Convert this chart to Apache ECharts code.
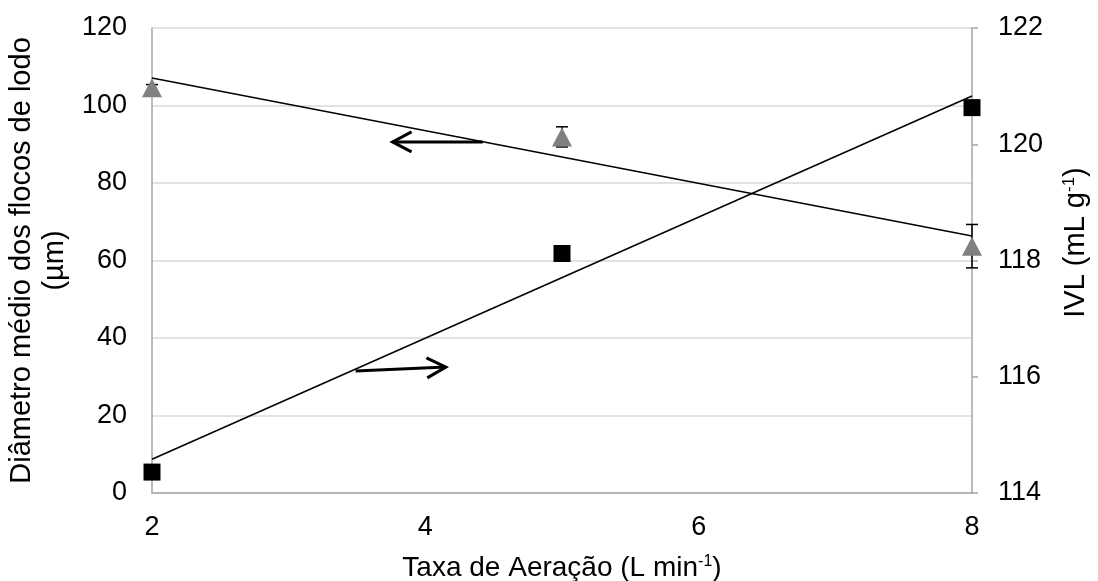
<!DOCTYPE html>
<html>
<head>
<meta charset="utf-8">
<script src="https://cdn.jsdelivr.net/npm/echarts@6/dist/echarts.min.js"></script>
<style>
html,body{margin:0;padding:0;background:#fff;}
#chart{width:1098px;height:581px;}
</style>
</head>
<body>
<div id="chart"></div>
<script>
// ---- data ----
var aerationRates = [2, 5, 8];                 // L min-1
var flocDiameter = [104.6, 91.9, 63.7];         // µm (left axis, grey triangles)
var flocDiameterErr = [0.8, 2.6, 5.6];          // error bar half-widths
var ivl = [114.36, 118.12, 120.63];             // mL g-1 (right axis, black squares)
var flocTrend = [[2, 107.1], [8, 66.3]];        // linear trend, left axis
var ivlTrend = [[2, 114.58], [8, 120.83]];      // linear trend, right axis
var arrowLeft = [[4.42, 90.6], [3.76, 90.6]];   // tail -> tip, left-axis coords
var arrowRight = [[3.49, 31.5], [4.15, 32.5]];  // tail -> tip, left-axis coords
var xTicks = [2, 4, 6, 8];
var leftTicks = [0, 20, 40, 60, 80, 100, 120];
var rightTicks = [114, 116, 118, 120, 122];

var FONT = 'Liberation Sans, Arial, sans-serif';
var FS = 27;
var TFS = 28;
var YTFS = 29;

var chart = echarts.init(document.getElementById('chart'), null, {renderer: 'canvas'});

function arrowRender(params, api) {
  var a = api.coord([api.value(0), api.value(1)]);
  var b = api.coord([api.value(2), api.value(3)]);
  var dx = b[0] - a[0], dy = b[1] - a[1];
  var len = Math.sqrt(dx * dx + dy * dy);
  var ux = dx / len, uy = dy / len;
  var L = 19, W = 10;
  var p1 = [b[0] - ux * L - uy * W, b[1] - uy * L + ux * W];
  var p2 = [b[0] - ux * L + uy * W, b[1] - uy * L - ux * W];
  return {
    type: 'group',
    children: [
      {type: 'line', shape: {x1: a[0], y1: a[1], x2: b[0], y2: b[1]},
       style: {stroke: '#000', lineWidth: 3}},
      {type: 'polyline', shape: {points: [p1, b, p2]},
       style: {stroke: '#000', lineWidth: 3, fill: null, lineJoin: 'miter'}}
    ]
  };
}

function errRender(params, api) {
  var x = api.value(0), y = api.value(1), e = api.value(2);
  var top = api.coord([x, y + e]);
  var bot = api.coord([x, y - e]);
  var c = 6;
  return {
    type: 'group',
    children: [
      {type: 'line', shape: {x1: top[0], y1: top[1], x2: bot[0], y2: bot[1]}, style: {stroke: '#000', lineWidth: 1.5}},
      {type: 'line', shape: {x1: top[0] - c, y1: top[1], x2: top[0] + c, y2: top[1]}, style: {stroke: '#000', lineWidth: 1.5}},
      {type: 'line', shape: {x1: bot[0] - c, y1: bot[1], x2: bot[0] + c, y2: bot[1]}, style: {stroke: '#000', lineWidth: 1.5}}
    ]
  };
}

var errData = aerationRates.map(function (x, i) { return [x, flocDiameter[i], flocDiameterErr[i]]; });
var arrowData = [
  [arrowLeft[0][0], arrowLeft[0][1], arrowLeft[1][0], arrowLeft[1][1]],
  [arrowRight[0][0], arrowRight[0][1], arrowRight[1][0], arrowRight[1][1]]
];

var option = {
  backgroundColor: '#fff',
  animation: false,
  textStyle: {fontFamily: FONT},
  grid: {left: 152, right: 126, top: 28, bottom: 88, containLabel: false, outerBoundsMode: 'none'},
  xAxis: {
    type: 'value', min: xTicks[0], max: xTicks[xTicks.length - 1], interval: 2,
    name: 'Taxa de Aeração (L min{sup|-1})',
    nameLocation: 'middle', nameGap: 61,
    nameTextStyle: {color: '#000', fontSize: TFS, fontFamily: FONT,
      rich: {sup: {fontSize: 16, fontFamily: FONT, color: '#000', verticalAlign: 'top', lineHeight: 16}}},
    axisLine: {show: true, lineStyle: {color: '#a6a6a6', width: 1.5}},
    axisTick: {show: false},
    splitLine: {show: false},
    axisLabel: {color: '#000', fontSize: FS, fontFamily: FONT, margin: 21}
  },
  yAxis: [
    {
      type: 'value', min: leftTicks[0], max: leftTicks[leftTicks.length - 1], interval: 20,
      position: 'left',
      name: 'Diâmetro médio dos flocos de lodo\n(µm)',
      nameLocation: 'middle', nameGap: 64, nameRotate: 90,
      nameTextStyle: {color: '#000', fontSize: YTFS, fontFamily: FONT, lineHeight: 33, align: 'center'},
      axisLine: {show: true, lineStyle: {color: '#a6a6a6', width: 1.5}},
      axisTick: {show: false},
      splitLine: {show: true, lineStyle: {color: '#d9d9d9', width: 1.5}},
      axisLabel: {color: '#000', fontSize: FS, fontFamily: FONT, margin: 25}
    },
    {
      type: 'value', min: rightTicks[0], max: rightTicks[rightTicks.length - 1], interval: 2,
      position: 'right',
      name: 'IVL (mL g{sup|-1})',
      nameLocation: 'middle', nameGap: 89, nameRotate: 90,
      nameTextStyle: {color: '#000', fontSize: YTFS, fontFamily: FONT, padding: [0, 0, 0, 36],
        rich: {sup: {fontSize: 17, fontFamily: FONT, color: '#000', verticalAlign: 'top', lineHeight: 17}}},
      axisLine: {show: true, lineStyle: {color: '#a6a6a6', width: 1.5}},
      axisTick: {show: true, inside: false, length: 6, lineStyle: {color: '#a6a6a6', width: 1.5}},
      splitLine: {show: false},
      axisLabel: {color: '#000', fontSize: FS, fontFamily: FONT, margin: 26}
    }
  ],
  series: [
    {
      type: 'line', yAxisIndex: 0, data: flocTrend, symbol: 'none',
      lineStyle: {color: '#000', width: 1.5}, z: 3
    },
    {
      type: 'line', yAxisIndex: 1, data: ivlTrend, symbol: 'none',
      lineStyle: {color: '#000', width: 1.5}, z: 3
    },
    {
      type: 'custom', yAxisIndex: 0, renderItem: errRender, data: errData, z: 4
    },
    {
      type: 'scatter', yAxisIndex: 0, symbol: 'triangle', symbolSize: [20, 19],
      itemStyle: {color: '#808080', opacity: 1},
      data: aerationRates.map(function (x, i) { return [x, flocDiameter[i]]; }), z: 5
    },
    {
      type: 'scatter', yAxisIndex: 1, symbol: 'rect', symbolSize: 17,
      itemStyle: {color: '#000', opacity: 1},
      data: aerationRates.map(function (x, i) { return [x, ivl[i]]; }), z: 5
    },
    {
      type: 'custom', yAxisIndex: 0, renderItem: arrowRender, data: arrowData, z: 6
    }
  ]
};
chart.setOption(option);
</script>
</body>
</html>
